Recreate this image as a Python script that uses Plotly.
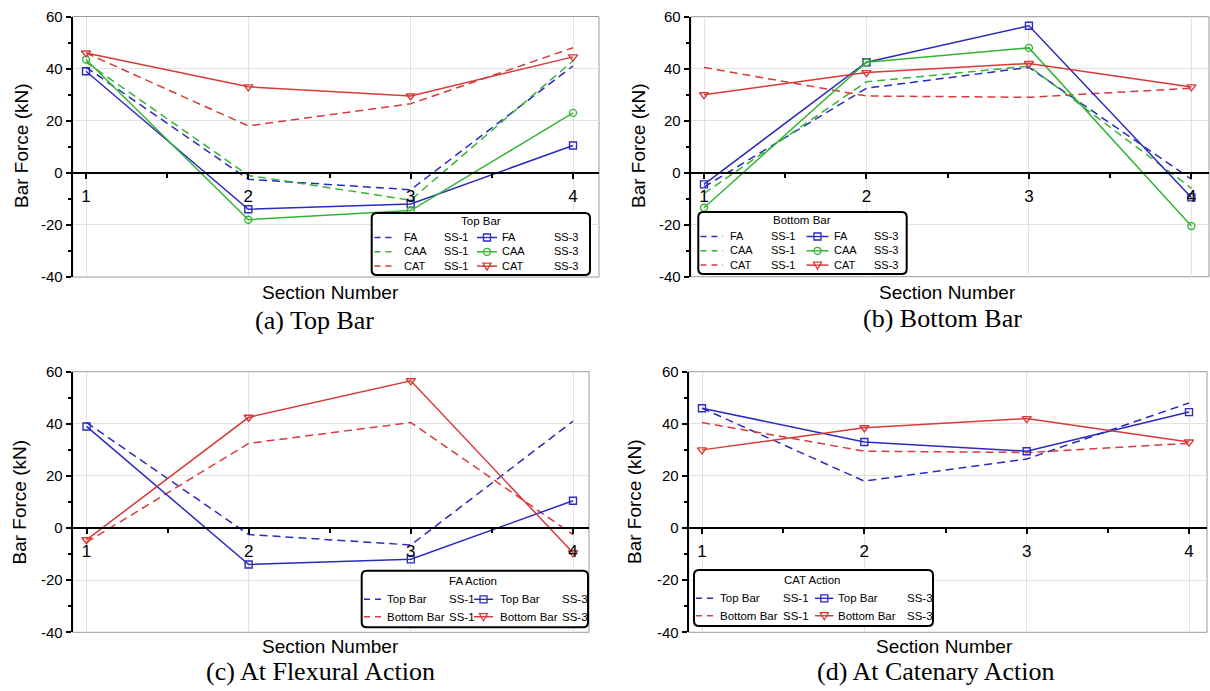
import plotly.graph_objects as go

W, H = 1210, 691

# ---------------- data ----------------
sections = [1, 2, 3, 4]
section_labels = ["1", "2", "3", "4"]
y_ticks = [-40, -20, 0, 20, 40, 60]
y_tick_labels = ["-40", "-20", "0", "20", "40", "60"]

# Top bar forces (kN)
top_fa_ss1 = [40.5, -2.5, -6.5, 41.0]
top_caa_ss1 = [42.5, -1.0, -10.5, 43.0]
top_cat_ss1 = [46.0, 18.0, 26.5, 48.0]
top_fa_ss3 = [39.0, -14.0, -12.0, 10.5]
top_caa_ss3 = [43.5, -18.0, -14.5, 23.0]
top_cat_ss3 = [46.0, 33.0, 29.5, 44.5]

# Bottom bar forces (kN)
bot_fa_ss1 = [-5.5, 32.5, 40.5, -2.5]
bot_caa_ss1 = [-8.0, 35.0, 41.0, -6.0]
bot_cat_ss1 = [40.5, 29.5, 29.0, 32.5]
bot_fa_ss3 = [-4.5, 42.5, 56.5, -9.5]
bot_caa_ss3 = [-13.5, 42.5, 48.0, -20.5]
bot_cat_ss3 = [30.0, 38.5, 42.0, 33.0]

action_names = ["FA", "CAA", "CAT"]
bar_names = ["Top Bar", "Bottom Bar"]
case_names = ["SS-1", "SS-3"]
legend_titles = ["Top Bar", "Bottom Bar", "FA Action", "CAT Action"]
captions = ["(a) Top Bar", "(b) Bottom Bar", "(c) At Flexural Action", "(d) At Catenary Action"]
x_title = "Section Number"
y_title = "Bar Force (kN)"

# ---------------- styles ----------------
BLUE = "#2b2bbd"
GREEN = "#35b535"
RED = "#d83a3a"
SANS = "Liberation Sans, Arial, sans-serif"
SERIF = "Liberation Serif, Times New Roman, serif"
DASH = "8px,5px"
Y_MIN, Y_MAX = -40, 60
SYM = {"square": ("square-open", 7), "circle": ("circle-open", 7), "tri": ("triangle-down-open", 8)}


def X(px):
    return px / W


def Y(py):
    return 1 - py / H


# pixel geometry of each plot area
panels = [
    dict(left=72.7, right=599, top=16.5, bottom=277, x1=86, x4=573),
    dict(left=690.7, right=1209, top=16.7, bottom=276.7, x1=704, x4=1191.4),
    dict(left=72.7, right=589, top=371.7, bottom=632.3, x1=86.5, x4=573),
    dict(left=688.7, right=1207, top=371.7, bottom=632.3, x1=702, x4=1189),
]

series = [
    [(top_fa_ss1, BLUE, None), (top_caa_ss1, GREEN, None), (top_cat_ss1, RED, None),
     (top_fa_ss3, BLUE, "square"), (top_caa_ss3, GREEN, "circle"), (top_cat_ss3, RED, "tri")],
    [(bot_fa_ss1, BLUE, None), (bot_caa_ss1, GREEN, None), (bot_cat_ss1, RED, None),
     (bot_fa_ss3, BLUE, "square"), (bot_caa_ss3, GREEN, "circle"), (bot_cat_ss3, RED, "tri")],
    [(top_fa_ss1, BLUE, None), (bot_fa_ss1, RED, None),
     (top_fa_ss3, BLUE, "square"), (bot_fa_ss3, RED, "tri")],
    [(top_cat_ss1, BLUE, None), (bot_cat_ss1, RED, None),
     (top_cat_ss3, BLUE, "square"), (bot_cat_ss3, RED, "tri")],
]
series_names = [
    [f"{a} {c}" for c in case_names for a in action_names],
    [f"{a} {c}" for c in case_names for a in action_names],
    [f"{b} {c}" for c in case_names for b in bar_names],
    [f"{b} {c}" for c in case_names for b in bar_names],
]

fig = go.Figure()
shapes = []
annotations = []
layout = dict(
    width=W, height=H, margin=dict(l=0, r=0, t=0, b=0, pad=0, autoexpand=False),
    paper_bgcolor="white", plot_bgcolor="white", showlegend=False,
)

for i, p in enumerate(panels):
    n = i + 1
    xs = "" if n == 1 else str(n)
    unit = (p["x4"] - p["x1"]) / 3
    xmin = 1 - (p["x1"] - p["left"]) / unit
    xmax = 4 + (p["right"] - p["x4"]) / unit
    zero_py = p["top"] + (Y_MAX - 0) / (Y_MAX - Y_MIN) * (p["bottom"] - p["top"])

    for (vals, col, sym), nm in zip(series[i], series_names[i]):
        if sym is None:
            fig.add_trace(go.Scatter(x=sections, y=vals, mode="lines", name=nm,
                                     line=dict(color=col, width=1.5, dash=DASH),
                                     xaxis="x" + xs, yaxis="y" + xs))
        else:
            s, sz = SYM[sym]
            fig.add_trace(go.Scatter(x=sections, y=vals, mode="lines+markers", name=nm,
                                     line=dict(color=col, width=1.5),
                                     marker=dict(symbol=s, size=sz, color=col, line=dict(width=1.4, color=col)),
                                     xaxis="x" + xs, yaxis="y" + xs))

    layout["xaxis" + xs] = dict(
        domain=[X(p["left"]), X(p["right"])], range=[xmin, xmax], automargin=False,
        anchor="free", position=Y(zero_py),
        tickvals=sections, ticktext=section_labels,
        showline=True, linecolor="black", linewidth=2,
        ticks="outside", ticklen=5, tickwidth=1.5, tickcolor="black",
        ticklabelstandoff=3,
        minor=dict(dtick=0.5, tick0=1, ticks="outside", ticklen=4, tickwidth=1.5, tickcolor="black", showgrid=False),
        showgrid=True, gridcolor="#e2e2e2", gridwidth=1, zeroline=False,
        tickfont=dict(family=SANS, size=17, color="black"),
    )
    layout["yaxis" + xs] = dict(
        domain=[Y(p["bottom"]), Y(p["top"])], range=[Y_MIN, Y_MAX], automargin=False,
        anchor="x" + xs, tickvals=y_ticks, ticktext=y_tick_labels,
        showline=True, linecolor="black", linewidth=2,
        ticks="outside", ticklen=5, tickwidth=1.5, tickcolor="black",
        minor=dict(dtick=10, tick0=0, ticks="outside", ticklen=3, tickwidth=1.5, tickcolor="black", showgrid=False),
        showgrid=True, gridcolor="#e2e2e2", gridwidth=1, zeroline=False,
        tickfont=dict(family=SANS, size=15, color="black"),
    )
    # frame of plot area
    shapes.append(dict(type="rect", xref="paper", yref="paper",
                       x0=X(p["left"]), x1=X(p["right"]), y0=Y(p["bottom"]), y1=Y(p["top"]),
                       line=dict(color="#9a9a9a", width=1), layer="below"))

# ---------------- titles & captions ----------------
ytitle_pos = [(21, 146), (638, 146), (19.5, 502), (635, 502)]
xtitle_pos = [(330, 292), (947, 292), (330, 646.7), (945, 646.7)]
caption_pos = [(314, 320), (942, 318), (320, 671.7), (936, 671.7)]
for i in range(4):
    annotations.append(dict(text=y_title, x=X(ytitle_pos[i][0]), y=Y(ytitle_pos[i][1]),
                            xref="paper", yref="paper", showarrow=False, textangle=-90,
                            xanchor="center", yanchor="middle",
                            font=dict(family=SANS, size=19, color="black")))
    annotations.append(dict(text=x_title, x=X(xtitle_pos[i][0]), y=Y(xtitle_pos[i][1]),
                            xref="paper", yref="paper", showarrow=False,
                            xanchor="center", yanchor="middle",
                            font=dict(family=SANS, size=19, color="black")))
    annotations.append(dict(text=captions[i], x=X(caption_pos[i][0]), y=Y(caption_pos[i][1]),
                            xref="paper", yref="paper", showarrow=False,
                            xanchor="center", yanchor="middle",
                            font=dict(family=SERIF, size=26, color="black")))

# ---------------- legends (drawn boxes) ----------------
# (a)/(b): each text column is one multi-line annotation (line pitch = 1.3 * fs)
legends = [
    dict(box=(371.7, 590, 213, 275), title=(481, 221), rows=[237.5, 251.8, 266.1], multi=True,
         s1=(374.5, 393), t1=401.5, c2=442, s2=(477, 497, 487), t3=500, c4=551.5,
         fs=11, tfs=11.5, names=action_names, cols=[BLUE, GREEN, RED], syms=["square", "circle", "tri"]),
    dict(box=(698.3, 906.7, 212, 274), title=(801.7, 220), rows=[236.5, 250.8, 265.1], multi=True,
         s1=(700.5, 723), t1=727.5, c2=768.5, s2=(806.5, 828.5, 817.5), t3=831.5, c4=871.5,
         fs=11, tfs=11.5, names=action_names, cols=[BLUE, GREEN, RED], syms=["square", "circle", "tri"]),
    dict(box=(361.7, 588, 570.7, 627.3), title=(473.4, 580.7), rows=[599.3, 616.7], multi=False,
         s1=(364, 382.7), t1=384.6, c2=447, s2=(474, 493, 483.5), t3=497.5, c4=559.5,
         fs=11.5, tfs=11.5, names=bar_names, cols=[BLUE, RED], syms=["square", "tri"]),
    dict(box=(694, 933, 570, 626), title=(811.7, 580), rows=[598.3, 615.7], multi=False,
         s1=(696, 716.5), t1=718.3, c2=780.7, s2=(815, 833.3, 824.3), t3=835.7, c4=905,
         fs=11.5, tfs=11.5, names=bar_names, cols=[BLUE, RED], syms=["square", "tri"]),
]


def rounded_path(x0, x1, y0, y1, r):
    a, b = X(x0), X(x1)
    rx, ry = r / W, r / H
    t, bt = Y(y0), Y(y1)
    return (f"M{a + rx},{t} L{b - rx},{t} Q{b},{t} {b},{t - ry} "
            f"L{b},{bt + ry} Q{b},{bt} {b - rx},{bt} "
            f"L{a + rx},{bt} Q{a},{bt} {a},{bt + ry} "
            f"L{a},{t - ry} Q{a},{t} {a + rx},{t} Z")


def hline(xa, xb, yy, col, w, dash="solid"):
    return dict(type="line", xref="paper", yref="paper", x0=X(xa), x1=X(xb), y0=Y(yy), y1=Y(yy),
                line=dict(color=col, width=w, dash=dash), layer="above")


def text_ann(txt, xx, yy, fs, anchor="left"):
    return dict(text=txt, x=X(xx), y=Y(yy), xref="paper", yref="paper",
                showarrow=False, xanchor=anchor, yanchor="middle", align="left",
                font=dict(family=SANS, size=fs, color="black"))


for i, lg in enumerate(legends):
    x0, x1, y0, y1 = lg["box"]
    shapes.append(dict(type="path", xref="paper", yref="paper", path=rounded_path(x0, x1, y0, y1, 5),
                       fillcolor="white", line=dict(color="black", width=2), layer="above"))
    annotations.append(text_ann(legend_titles[i], lg["title"][0], lg["title"][1], lg["tfs"], "center"))
    for ry, nm, col, sym in zip(lg["rows"], lg["names"], lg["cols"], lg["syms"]):
        shapes.append(hline(lg["s1"][0], lg["s1"][1], ry, col, 1.5, "6px,5px"))
        shapes.append(hline(lg["s2"][0], lg["s2"][1], ry, col, 1.5))
        cx = lg["s2"][2]
        if sym == "square":
            shapes.append(dict(type="rect", xref="paper", yref="paper",
                               x0=X(cx - 3.5), x1=X(cx + 3.5), y0=Y(ry + 3.5), y1=Y(ry - 3.5),
                               fillcolor="white", line=dict(color=col, width=1.3), layer="above"))
            shapes.append(hline(cx - 3.5, cx + 3.5, ry, col, 1.3))
        elif sym == "circle":
            shapes.append(dict(type="circle", xref="paper", yref="paper",
                               x0=X(cx - 3.5), x1=X(cx + 3.5), y0=Y(ry + 3.5), y1=Y(ry - 3.5),
                               fillcolor="white", line=dict(color=col, width=1.3), layer="above"))
            shapes.append(hline(cx - 3.5, cx + 3.5, ry, col, 1.3))
        else:
            path = f"M{X(cx - 4)},{Y(ry - 3)} L{X(cx + 4)},{Y(ry - 3)} L{X(cx)},{Y(ry + 4)} Z"
            shapes.append(dict(type="path", xref="paper", yref="paper", path=path,
                               fillcolor="white", line=dict(color=col, width=1.3), layer="above"))
            shapes.append(hline(cx - 4, cx + 4, ry, col, 1.3))
    cols_text = [(lg["names"], lg["t1"]), ([case_names[0]] * len(lg["names"]), lg["c2"]),
                 (lg["names"], lg["t3"]), ([case_names[1]] * len(lg["names"]), lg["c4"])]
    if lg["multi"]:
        mid = (lg["rows"][0] + lg["rows"][-1]) / 2
        for texts, xx in cols_text:
            annotations.append(text_ann("<br>".join(texts), xx, mid, lg["fs"]))
    else:
        for texts, xx in cols_text:
            for ry, txt in zip(lg["rows"], texts):
                annotations.append(text_ann(txt, xx, ry, lg["fs"]))

layout["shapes"] = shapes
layout["annotations"] = annotations
fig.update_layout(**layout)
fig.write_html("out.html")
